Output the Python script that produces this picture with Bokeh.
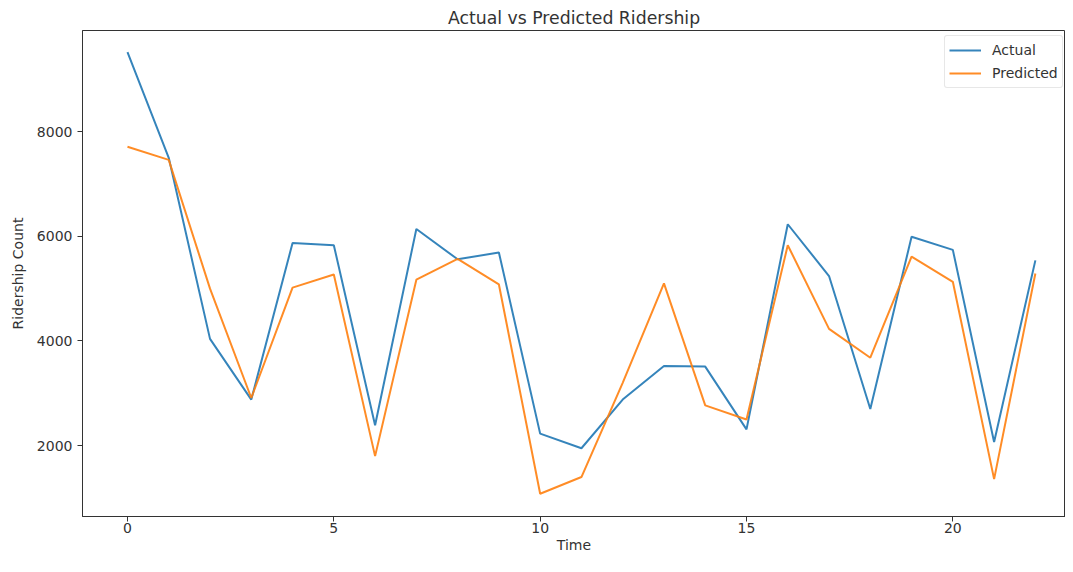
from bokeh.plotting import figure
from bokeh.models import Range1d, Legend, LegendItem, FixedTicker
from bokeh.embed import file_html
from bokeh.resources import INLINE

time = list(range(23))
actual = [9520, 7500, 4040, 2880, 5870, 5830, 2390, 6140, 5560, 5690, 2230, 1950,
          2880, 3520, 3510, 2310, 6230, 5240, 2700, 5990, 5740, 2070, 5540]
predicted = [7710, 7460, 5000, 2910, 5020, 5270, 1800, 5170, 5570, 5080, 1080, 1400,
             3200, 5100, 2770, 2500, 5830, 4230, 3680, 5610, 5130, 1360, 5290]
x_ticks = [0, 5, 10, 15, 20]
y_ticks = [2000, 4000, 6000, 8000]

FONT = "DejaVu Sans"
TXT = "#333333"

p = figure(width=1065, height=556, output_backend="svg", toolbar_location=None,
           x_range=Range1d(-1.09, 22.73), y_range=Range1d(646, 9932),
           min_border_left=82, min_border_right=0, min_border_top=30, min_border_bottom=40,
           title="Actual vs Predicted Ridership")
p.title.align = "center"
p.title.text_font = FONT
p.title.text_font_size = "17.3px"
p.title.text_font_style = "normal"
p.title.text_color = TXT
p.title.standoff = 5
p.title.offset = 0

p.grid.visible = False
p.outline_line_color = "#333333"
p.outline_line_width = 1

for ax in (p.xaxis[0], p.yaxis[0]):
    ax.axis_line_color = "#333333"
    ax.major_tick_line_color = "#333333"
    ax.major_tick_out = 5
    ax.major_tick_in = 0
    ax.minor_tick_out = 0
    ax.minor_tick_in = 0
    ax.major_label_text_font = FONT
    ax.major_label_text_font_size = "14px"
    ax.major_label_text_color = TXT
    ax.axis_label_text_font = FONT
    ax.axis_label_text_font_size = "14px"
    ax.axis_label_text_font_style = "normal"
    ax.axis_label_text_color = TXT

p.xaxis.ticker = FixedTicker(ticks=x_ticks)
p.yaxis.ticker = FixedTicker(ticks=y_ticks)
p.xaxis.axis_label = "Time"
p.yaxis.axis_label = "Ridership Count"
p.xaxis.major_label_standoff = 1
p.xaxis.axis_label_standoff = 1
p.yaxis.major_label_standoff = 5
p.yaxis.axis_label_standoff = 8

r1 = p.line(time, actual, line_color="#1f77b4", line_width=2, line_alpha=0.9)
r2 = p.line(time, predicted, line_color="#ff7f0e", line_width=2, line_alpha=0.9)

legend = Legend(items=[LegendItem(label="Actual", renderers=[r1]),
                       LegendItem(label="Predicted", renderers=[r2])],
                location=(862, 428))
legend.label_text_font = FONT
legend.label_text_font_size = "14px"
legend.label_text_color = TXT
legend.glyph_width = 32
legend.glyph_height = 20
legend.label_height = 20
legend.label_standoff = 11
legend.padding = 4
legend.spacing = 3
legend.margin = 0
legend.border_line_color = "#d0d0d0"
legend.border_line_width = 1
legend.background_fill_alpha = 0.8
if "border_radius" in Legend.properties():
    legend.border_radius = 3
p.add_layout(legend, "center")

open("out.html", "w").write(file_html(p, INLINE))
